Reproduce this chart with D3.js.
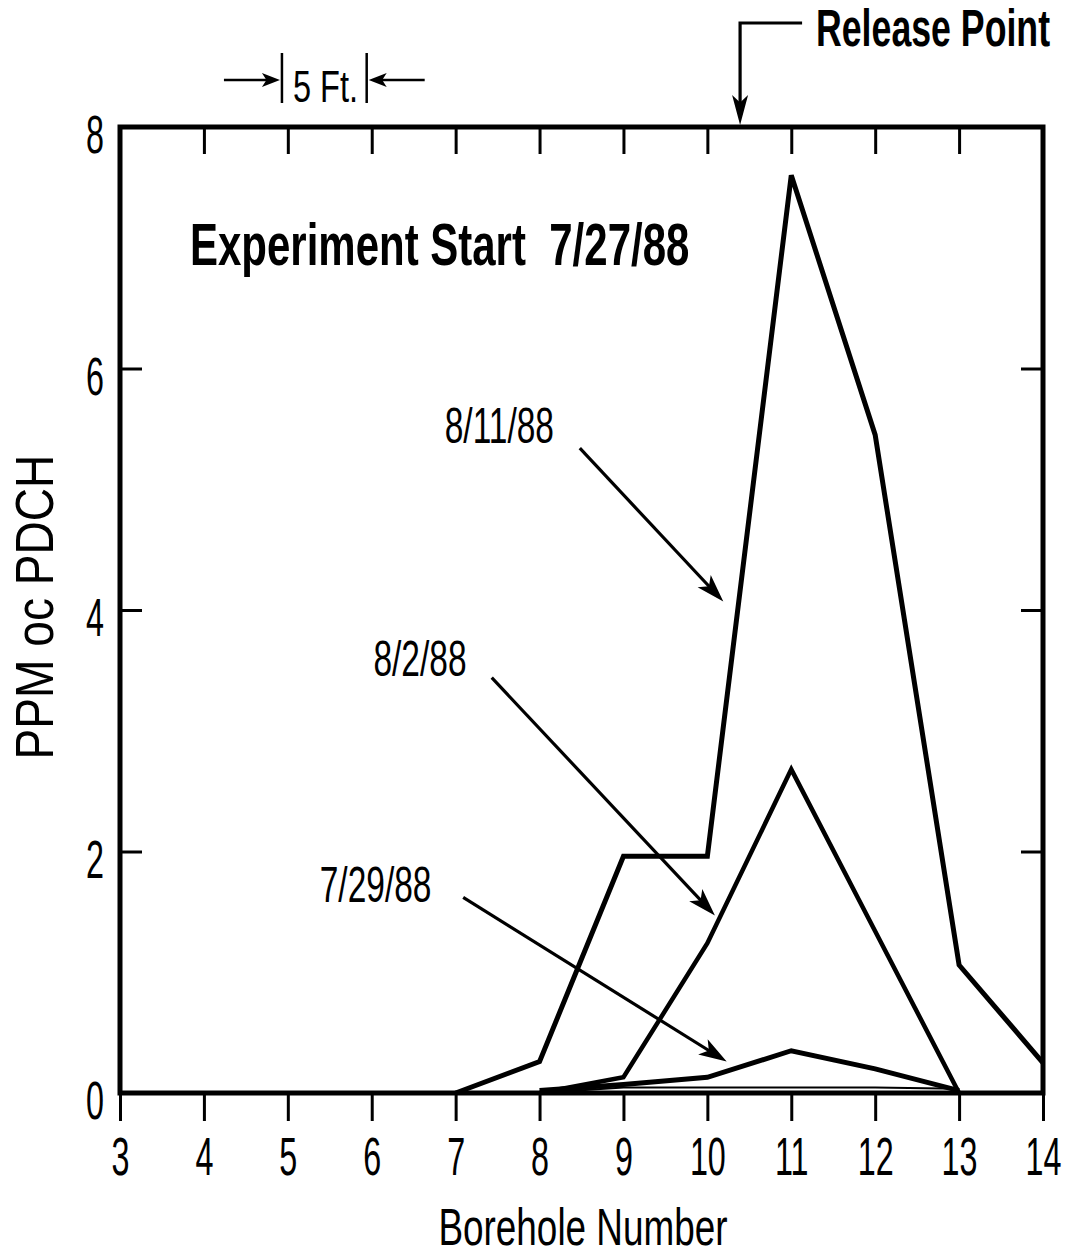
<!DOCTYPE html>
<html>
<head>
<meta charset="utf-8">
<script src="https://cdn.jsdelivr.net/npm/d3@7"></script>
<style>
  html, body { margin: 0; padding: 0; background: #fff; }
  svg { display: block; }
  text { font-family: "Liberation Sans", Arial, Helvetica, sans-serif; fill: #000; white-space: pre; }
</style>
</head>
<body>
<svg id="chart" width="1066" height="1258"></svg>
<script>
// Borehole positions and axis ticks
const boreholes = [3, 4, 5, 6, 7, 8, 9, 10, 11, 12, 13, 14];
const topTicks = [4, 5, 6, 7, 8, 9, 10, 11, 12, 13];
const yTickLabels = [0, 2, 4, 6, 8];
const sideTicks = [2, 4, 6];

// PDCH concentration (ppm) by borehole for each sampling date
const bh811 = [7, 8, 9, 10, 11, 12, 13, 14];
const ppm811 = [0, 0.26, 1.96, 1.96, 7.6, 5.45, 1.06, 0.25];

const bh802 = [8, 9, 10, 11, 12, 13];
const ppm802 = [0, 0.13, 1.24, 2.68, 1.34, 0];

const bh729 = [8, 9, 10, 11, 12, 13];
const ppm729 = [0.02, 0.07, 0.13, 0.35, 0.2, 0.02];

// faint near-zero trace just above the baseline
const bhFaint = [8, 9, 10, 11, 12, 13];
const ppmFaint = [0, 0.045, 0.045, 0.045, 0.045, 0.035];

// date callouts: label anchor, arrow start and arrow tip (borehole, ppm)
const calloutLabels = ["8/11/88", "8/2/88", "7/29/88"];
const calloutText = [[6.87, 5.38], [6.02, 3.45], [5.38, 1.58]];
const calloutFrom = [[8.48, 5.34], [7.43, 3.44], [7.09, 1.62]];
const calloutTo = [[10.19, 4.07], [10.09, 1.47], [10.23, 0.26]];

const releasePoint = 10.39;
const spacingMarks = [4.93, 5.94];

const svg = d3.select("#chart");
const x = d3.scaleLinear().domain([3, 14]).range([120, 1043]);
const y = d3.scaleLinear().domain([0, 8]).range([1093, 127]);

const FONT = 53;

// helper for condensed text
function ctext(g, str, px, py, size, sx, opts = {}) {
  return g.append("text")
    .attr("transform", `translate(${px},${py}) ${opts.rotate ? `rotate(${opts.rotate})` : ""} scale(${sx},1)`)
    .attr("font-size", size)
    .attr("font-weight", opts.bold ? "bold" : "normal")
    .attr("text-anchor", opts.anchor || "start")
    .text(str);
}

function arrowHead(g, x1, y1, x2, y2, len, half) {
  const a = Math.atan2(y2 - y1, x2 - x1);
  const bx = x2 - len * Math.cos(a), by = y2 - len * Math.sin(a);
  const nx = -Math.sin(a), ny = Math.cos(a);
  g.append("path")
    .attr("d", `M${x2},${y2} L${bx + nx * half},${by + ny * half} L${bx + len * 0.25 * Math.cos(a)},${by + len * 0.25 * Math.sin(a)} L${bx - nx * half},${by - ny * half} Z`)
    .attr("fill", "#000");
  return [bx + len * 0.3 * Math.cos(a), by + len * 0.3 * Math.sin(a)];
}

// --- axes ---
const axBottom = svg.append("g").attr("transform", `translate(0,${y(0)})`)
  .call(d3.axisBottom(x).tickValues(boreholes).tickSize(28).tickSizeOuter(0).tickFormat(d3.format("d")));
axBottom.select(".domain").remove();
axBottom.selectAll(".tick line").attr("stroke", "#000").attr("stroke-width", 3);
axBottom.selectAll(".tick text")
  .attr("y", 82).attr("dy", 0)
  .attr("font-size", FONT)
  .attr("fill", "#000")
  .attr("transform", "scale(0.61,1)");
axBottom.attr("font-family", null).attr("font-size", null);

const axTop = svg.append("g").attr("transform", `translate(0,${y(8)})`)
  .call(d3.axisTop(x).tickValues(topTicks).tickSize(-27).tickSizeOuter(0).tickFormat(""));
axTop.select(".domain").remove();
axTop.selectAll(".tick line").attr("stroke", "#000").attr("stroke-width", 3);

const axLeft = svg.append("g").attr("transform", `translate(${x(3)},0)`)
  .call(d3.axisLeft(y).tickValues(sideTicks).tickSize(-22).tickSizeOuter(0).tickFormat(""));
axLeft.select(".domain").remove();
axLeft.selectAll(".tick line").attr("stroke", "#000").attr("stroke-width", 3);

const axRight = svg.append("g").attr("transform", `translate(${x(14)},0)`)
  .call(d3.axisRight(y).tickValues(sideTicks).tickSize(-22).tickSizeOuter(0).tickFormat(""));
axRight.select(".domain").remove();
axRight.selectAll(".tick line").attr("stroke", "#000").attr("stroke-width", 3);

// y tick labels
const yl = svg.append("g");
yTickLabels.forEach(v => {
  ctext(yl, String(v), 104, y(v) + 26, FONT, 0.61, { anchor: "end" });
});

// --- series ---
const line = d3.line().x(d => x(d[0])).y(d => y(d[1]));
const plot = svg.append("g").attr("fill", "none").attr("stroke", "#000").attr("stroke-linejoin", "miter");
plot.append("path").datum(d3.zip(bhFaint, ppmFaint)).attr("d", line).attr("stroke-width", 2);
plot.append("path").datum(d3.zip(bh729, ppm729)).attr("d", line).attr("stroke-width", 5);
plot.append("path").datum(d3.zip(bh802, ppm802)).attr("d", line).attr("stroke-width", 4.5);
plot.append("path").datum(d3.zip(bh811, ppm811)).attr("d", line).attr("stroke-width", 5);

// frame
svg.append("rect")
  .attr("x", x(3)).attr("y", y(8))
  .attr("width", x(14) - x(3)).attr("height", y(0) - y(8))
  .attr("fill", "none").attr("stroke", "#000").attr("stroke-width", 5);

// --- axis titles ---
ctext(svg, "Borehole Number", 583, 1245, 52, 0.71, { anchor: "middle" });
ctext(svg, "PPM oc PDCH", 53, 607, FONT, 0.87, { anchor: "middle", rotate: -90 });

// --- annotations ---
const ann = svg.append("g");
ctext(ann, "Experiment Start\u00a0\u00a07/27/88", x(3.834), y(6.857), 60, 0.70, { bold: true });

calloutLabels.forEach((lab, i) => {
  ctext(ann, lab, x(calloutText[i][0]), y(calloutText[i][1]), 50, 0.67);
  const x1 = x(calloutFrom[i][0]), y1 = y(calloutFrom[i][1]);
  const x2 = x(calloutTo[i][0]), y2 = y(calloutTo[i][1]);
  const end = arrowHead(ann, x1, y1, x2, y2, 28, 9);
  ann.append("line").attr("x1", x1).attr("y1", y1).attr("x2", end[0]).attr("y2", end[1])
    .attr("stroke", "#000").attr("stroke-width", 3.2);
});

// release point marker
const rx = x(releasePoint);
ann.append("path").attr("d", `M${rx + 62},23 H${rx} V105`)
  .attr("fill", "none").attr("stroke", "#000").attr("stroke-width", 3.2);
arrowHead(ann, rx, 60, rx, y(8) - 2, 30, 8);
ctext(ann, "Release Point", 816, 46, 51, 0.70, { bold: true });

// borehole spacing scale
const s1 = x(spacingMarks[0]), s2 = x(spacingMarks[1]);
[s1, s2].forEach(sx => {
  ann.append("line").attr("x1", sx).attr("x2", sx).attr("y1", 53).attr("y2", 103)
    .attr("stroke", "#000").attr("stroke-width", 2.5);
});
ann.append("line").attr("x1", s1 - 58).attr("x2", s1 - 12).attr("y1", 80).attr("y2", 80)
  .attr("stroke", "#000").attr("stroke-width", 2.5);
arrowHead(ann, s1 - 58, 80, s1 - 2, 80, 18, 7);
ann.append("line").attr("x1", s2 + 58).attr("x2", s2 + 12).attr("y1", 80).attr("y2", 80)
  .attr("stroke", "#000").attr("stroke-width", 2.5);
arrowHead(ann, s2 + 58, 80, s2 + 2, 80, 18, 7);
ctext(ann, "5 Ft.", s1 + 11, 102, 44, 0.74);
</script>
</body>
</html>
